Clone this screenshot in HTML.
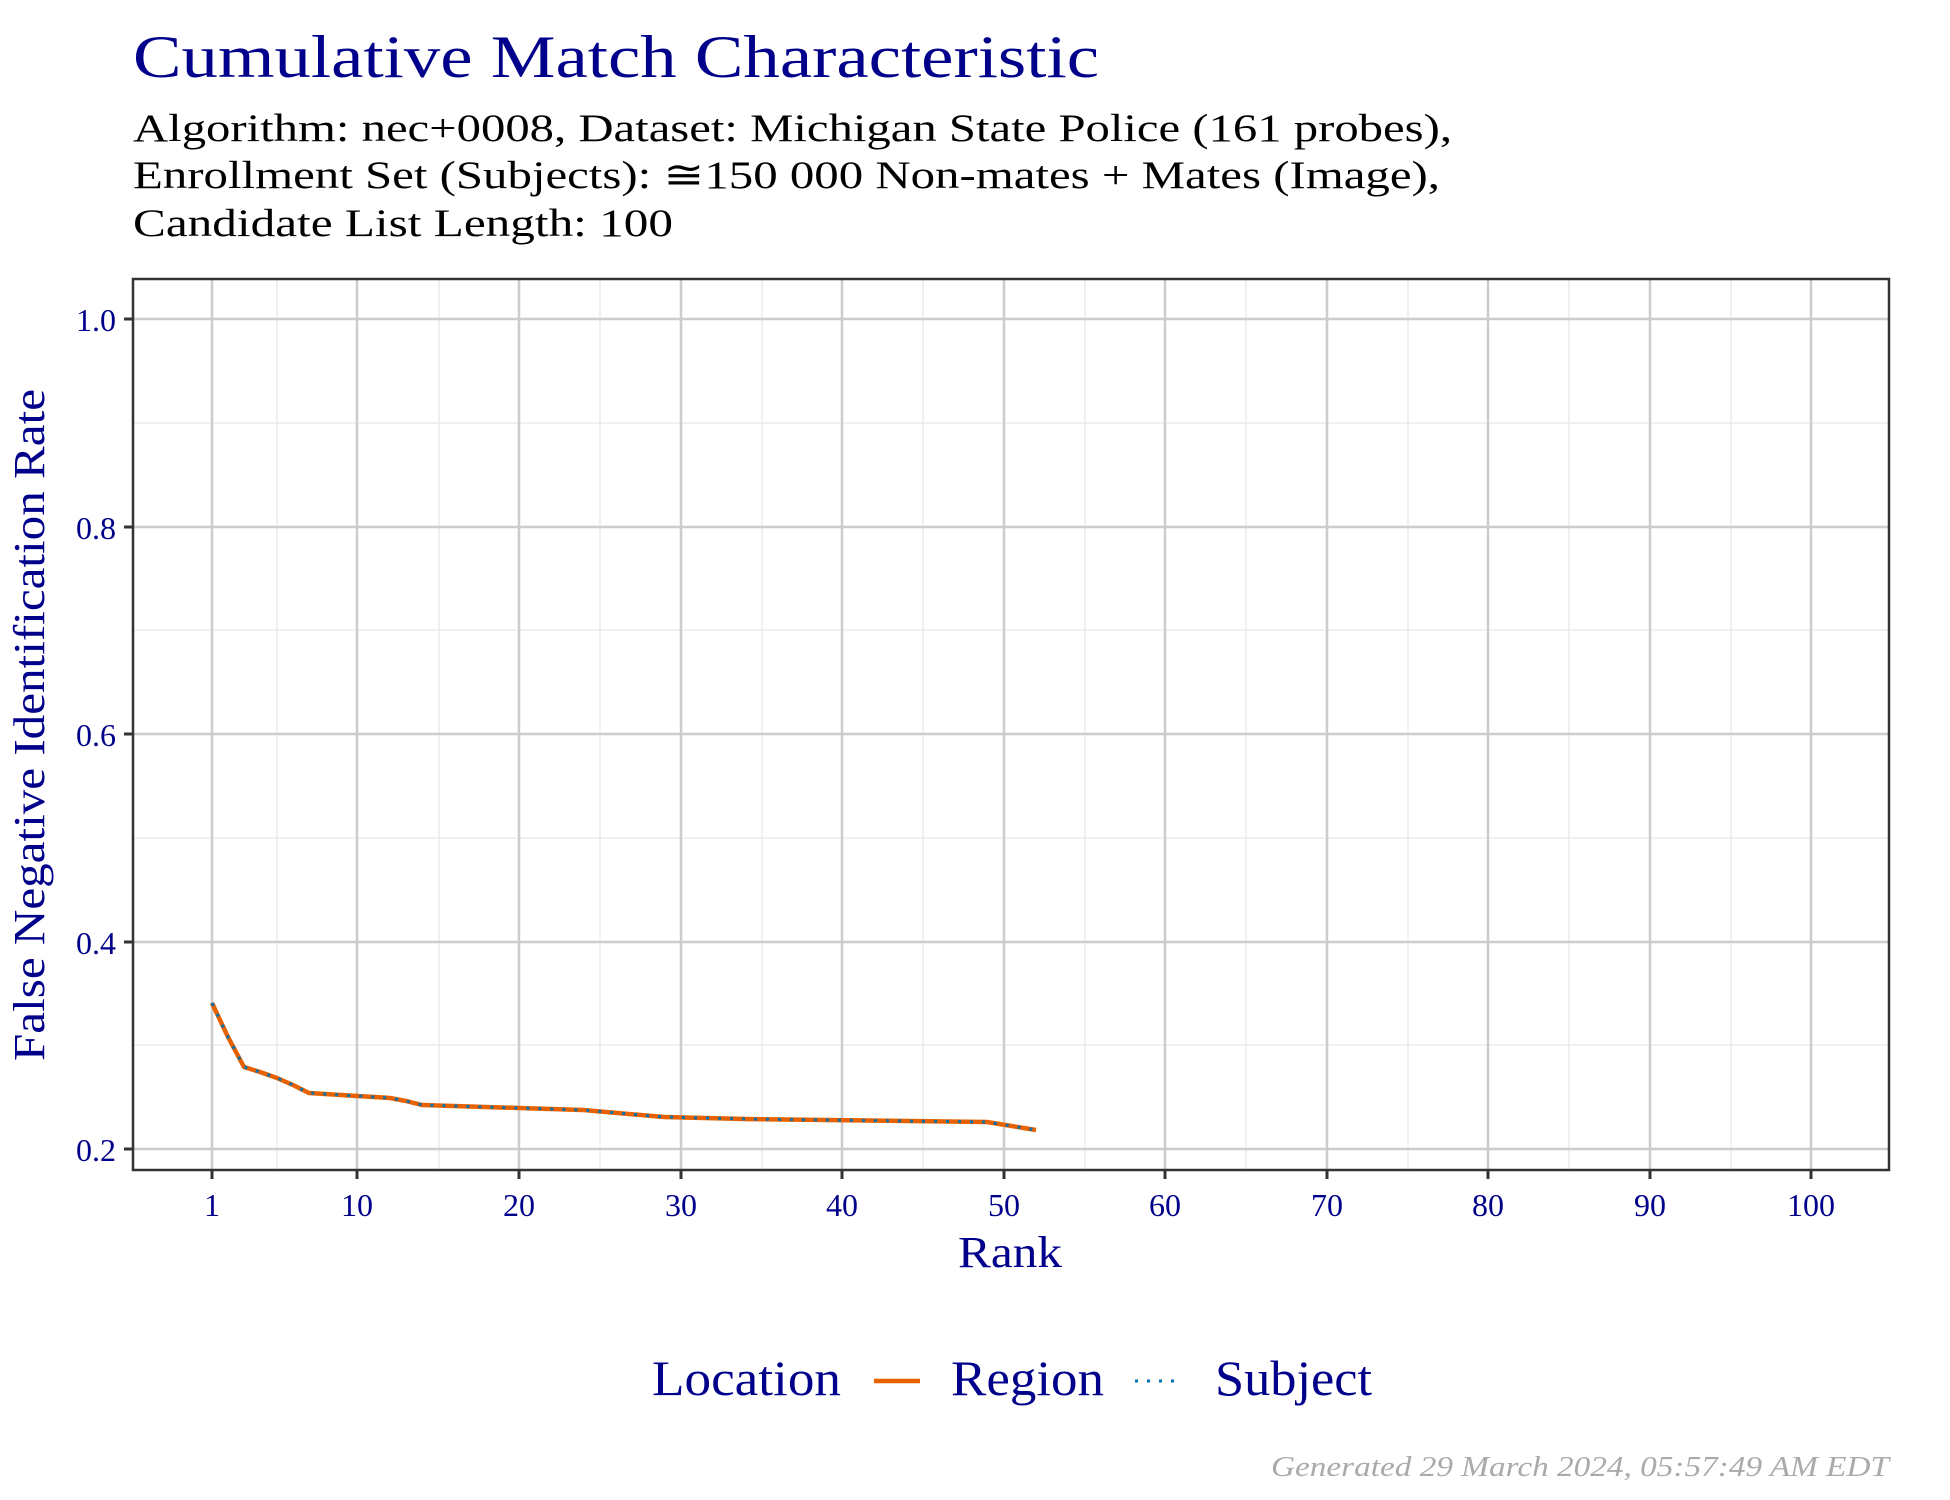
<!DOCTYPE html>
<html><head><meta charset="utf-8"><style>
html,body{margin:0;padding:0;background:#fff;}
svg{display:block;}
text{font-family:"Liberation Serif",serif;}
</style></head><body>
<svg width="1950" height="1500" viewBox="0 0 1950 1500" xmlns="http://www.w3.org/2000/svg">
<rect width="1950" height="1500" fill="#fff"/>
<text x="133" y="77" font-size="60" fill="#00008B" textLength="966" lengthAdjust="spacingAndGlyphs">Cumulative Match Characteristic</text>
<text x="133" y="141" font-size="39" fill="#000" textLength="1319" lengthAdjust="spacingAndGlyphs">Algorithm: nec+0008, Dataset: Michigan State Police (161 probes),</text>
<text x="133" y="188" font-size="39" fill="#000" textLength="1307" lengthAdjust="spacingAndGlyphs">Enrollment Set (Subjects): ≅150 000 Non-mates + Mates (Image),</text>
<text x="133" y="236" font-size="39" fill="#000" textLength="540" lengthAdjust="spacingAndGlyphs">Candidate List Length: 100</text>
<g stroke="#ebebeb" stroke-width="1.5">
<line x1="133" x2="1889" y1="423" y2="423"/><line x1="133" x2="1889" y1="630" y2="630"/><line x1="133" x2="1889" y1="838" y2="838"/><line x1="133" x2="1889" y1="1045" y2="1045"/>
<line x1="277" x2="277" y1="279" y2="1170"/><line x1="439" x2="439" y1="279" y2="1170"/><line x1="600" x2="600" y1="279" y2="1170"/><line x1="762" x2="762" y1="279" y2="1170"/><line x1="923" x2="923" y1="279" y2="1170"/><line x1="1085" x2="1085" y1="279" y2="1170"/><line x1="1246" x2="1246" y1="279" y2="1170"/><line x1="1408" x2="1408" y1="279" y2="1170"/><line x1="1569" x2="1569" y1="279" y2="1170"/><line x1="1731" x2="1731" y1="279" y2="1170"/>
</g>
<g stroke="#cccccc" stroke-width="2.5">
<line x1="133" x2="1889" y1="319" y2="319"/><line x1="133" x2="1889" y1="527" y2="527"/><line x1="133" x2="1889" y1="734" y2="734"/><line x1="133" x2="1889" y1="942" y2="942"/><line x1="133" x2="1889" y1="1149" y2="1149"/>
<line x1="212" x2="212" y1="279" y2="1170"/><line x1="357" x2="357" y1="279" y2="1170"/><line x1="519" x2="519" y1="279" y2="1170"/><line x1="681" x2="681" y1="279" y2="1170"/><line x1="842" x2="842" y1="279" y2="1170"/><line x1="1004" x2="1004" y1="279" y2="1170"/><line x1="1165" x2="1165" y1="279" y2="1170"/><line x1="1327" x2="1327" y1="279" y2="1170"/><line x1="1488" x2="1488" y1="279" y2="1170"/><line x1="1650" x2="1650" y1="279" y2="1170"/><line x1="1811" x2="1811" y1="279" y2="1170"/>
</g>
<polyline fill="none" stroke="#E66100" stroke-width="4.5" stroke-linejoin="round" points="212,1003 228,1037 244,1067 260,1072 277,1078 293,1085 309,1093 325,1094 341,1095 357,1096 374,1097 390,1098 406,1101 422,1105 519,1108 583,1110 664,1117 745,1119 987,1122 1036,1130"/>
<polyline fill="none" stroke="#0072B2" stroke-width="3" stroke-dasharray="3,9" points="212,1003 228,1037 244,1067 260,1072 277,1078 293,1085 309,1093 325,1094 341,1095 357,1096 374,1097 390,1098 406,1101 422,1105 519,1108 583,1110 664,1117 745,1119 987,1122 1036,1130"/>
<rect x="133" y="279" width="1756" height="891" fill="none" stroke="#333" stroke-width="2.5"/>
<g stroke="#333" stroke-width="3">
<line x1="124" x2="133" y1="319" y2="319"/><line x1="124" x2="133" y1="527" y2="527"/><line x1="124" x2="133" y1="734" y2="734"/><line x1="124" x2="133" y1="942" y2="942"/><line x1="124" x2="133" y1="1149" y2="1149"/>
<line x1="212" x2="212" y1="1170" y2="1179"/><line x1="357" x2="357" y1="1170" y2="1179"/><line x1="519" x2="519" y1="1170" y2="1179"/><line x1="681" x2="681" y1="1170" y2="1179"/><line x1="842" x2="842" y1="1170" y2="1179"/><line x1="1004" x2="1004" y1="1170" y2="1179"/><line x1="1165" x2="1165" y1="1170" y2="1179"/><line x1="1327" x2="1327" y1="1170" y2="1179"/><line x1="1488" x2="1488" y1="1170" y2="1179"/><line x1="1650" x2="1650" y1="1170" y2="1179"/><line x1="1811" x2="1811" y1="1170" y2="1179"/>
</g>
<g font-size="32" fill="#00008B" text-anchor="end">
<text x="116" y="331">1.0</text><text x="116" y="539">0.8</text><text x="116" y="746">0.6</text><text x="116" y="954">0.4</text><text x="116" y="1161">0.2</text>
</g>
<g font-size="32" fill="#00008B" text-anchor="middle">
<text x="212" y="1216">1</text><text x="357" y="1216">10</text><text x="519" y="1216">20</text><text x="681" y="1216">30</text><text x="842" y="1216">40</text><text x="1004" y="1216">50</text><text x="1165" y="1216">60</text><text x="1327" y="1216">70</text><text x="1488" y="1216">80</text><text x="1650" y="1216">90</text><text x="1811" y="1216">100</text>
</g>
<text x="958" y="1267" font-size="44" fill="#00008B" textLength="104" lengthAdjust="spacingAndGlyphs">Rank</text>
<text transform="translate(44,1061) rotate(-90)" font-size="44" fill="#00008B" textLength="672" lengthAdjust="spacingAndGlyphs">False Negative Identification Rate</text>
<text x="652" y="1395" font-size="50" fill="#00008B" textLength="189" lengthAdjust="spacingAndGlyphs">Location</text>
<line x1="874" x2="920" y1="1381" y2="1381" stroke="#E66100" stroke-width="4.5"/>
<text x="951" y="1395" font-size="50" fill="#00008B" textLength="153" lengthAdjust="spacingAndGlyphs">Region</text>
<line x1="1135" x2="1178" y1="1381" y2="1381" stroke="#0072B2" stroke-width="3" stroke-dasharray="3,9"/>
<text x="1215" y="1395" font-size="50" fill="#00008B" textLength="157" lengthAdjust="spacingAndGlyphs">Subject</text>
<text x="1271" y="1476" font-size="29" font-style="italic" fill="#aaaaaa" textLength="618" lengthAdjust="spacingAndGlyphs">Generated 29 March 2024, 05:57:49 AM EDT</text>
</svg>
</body></html>
